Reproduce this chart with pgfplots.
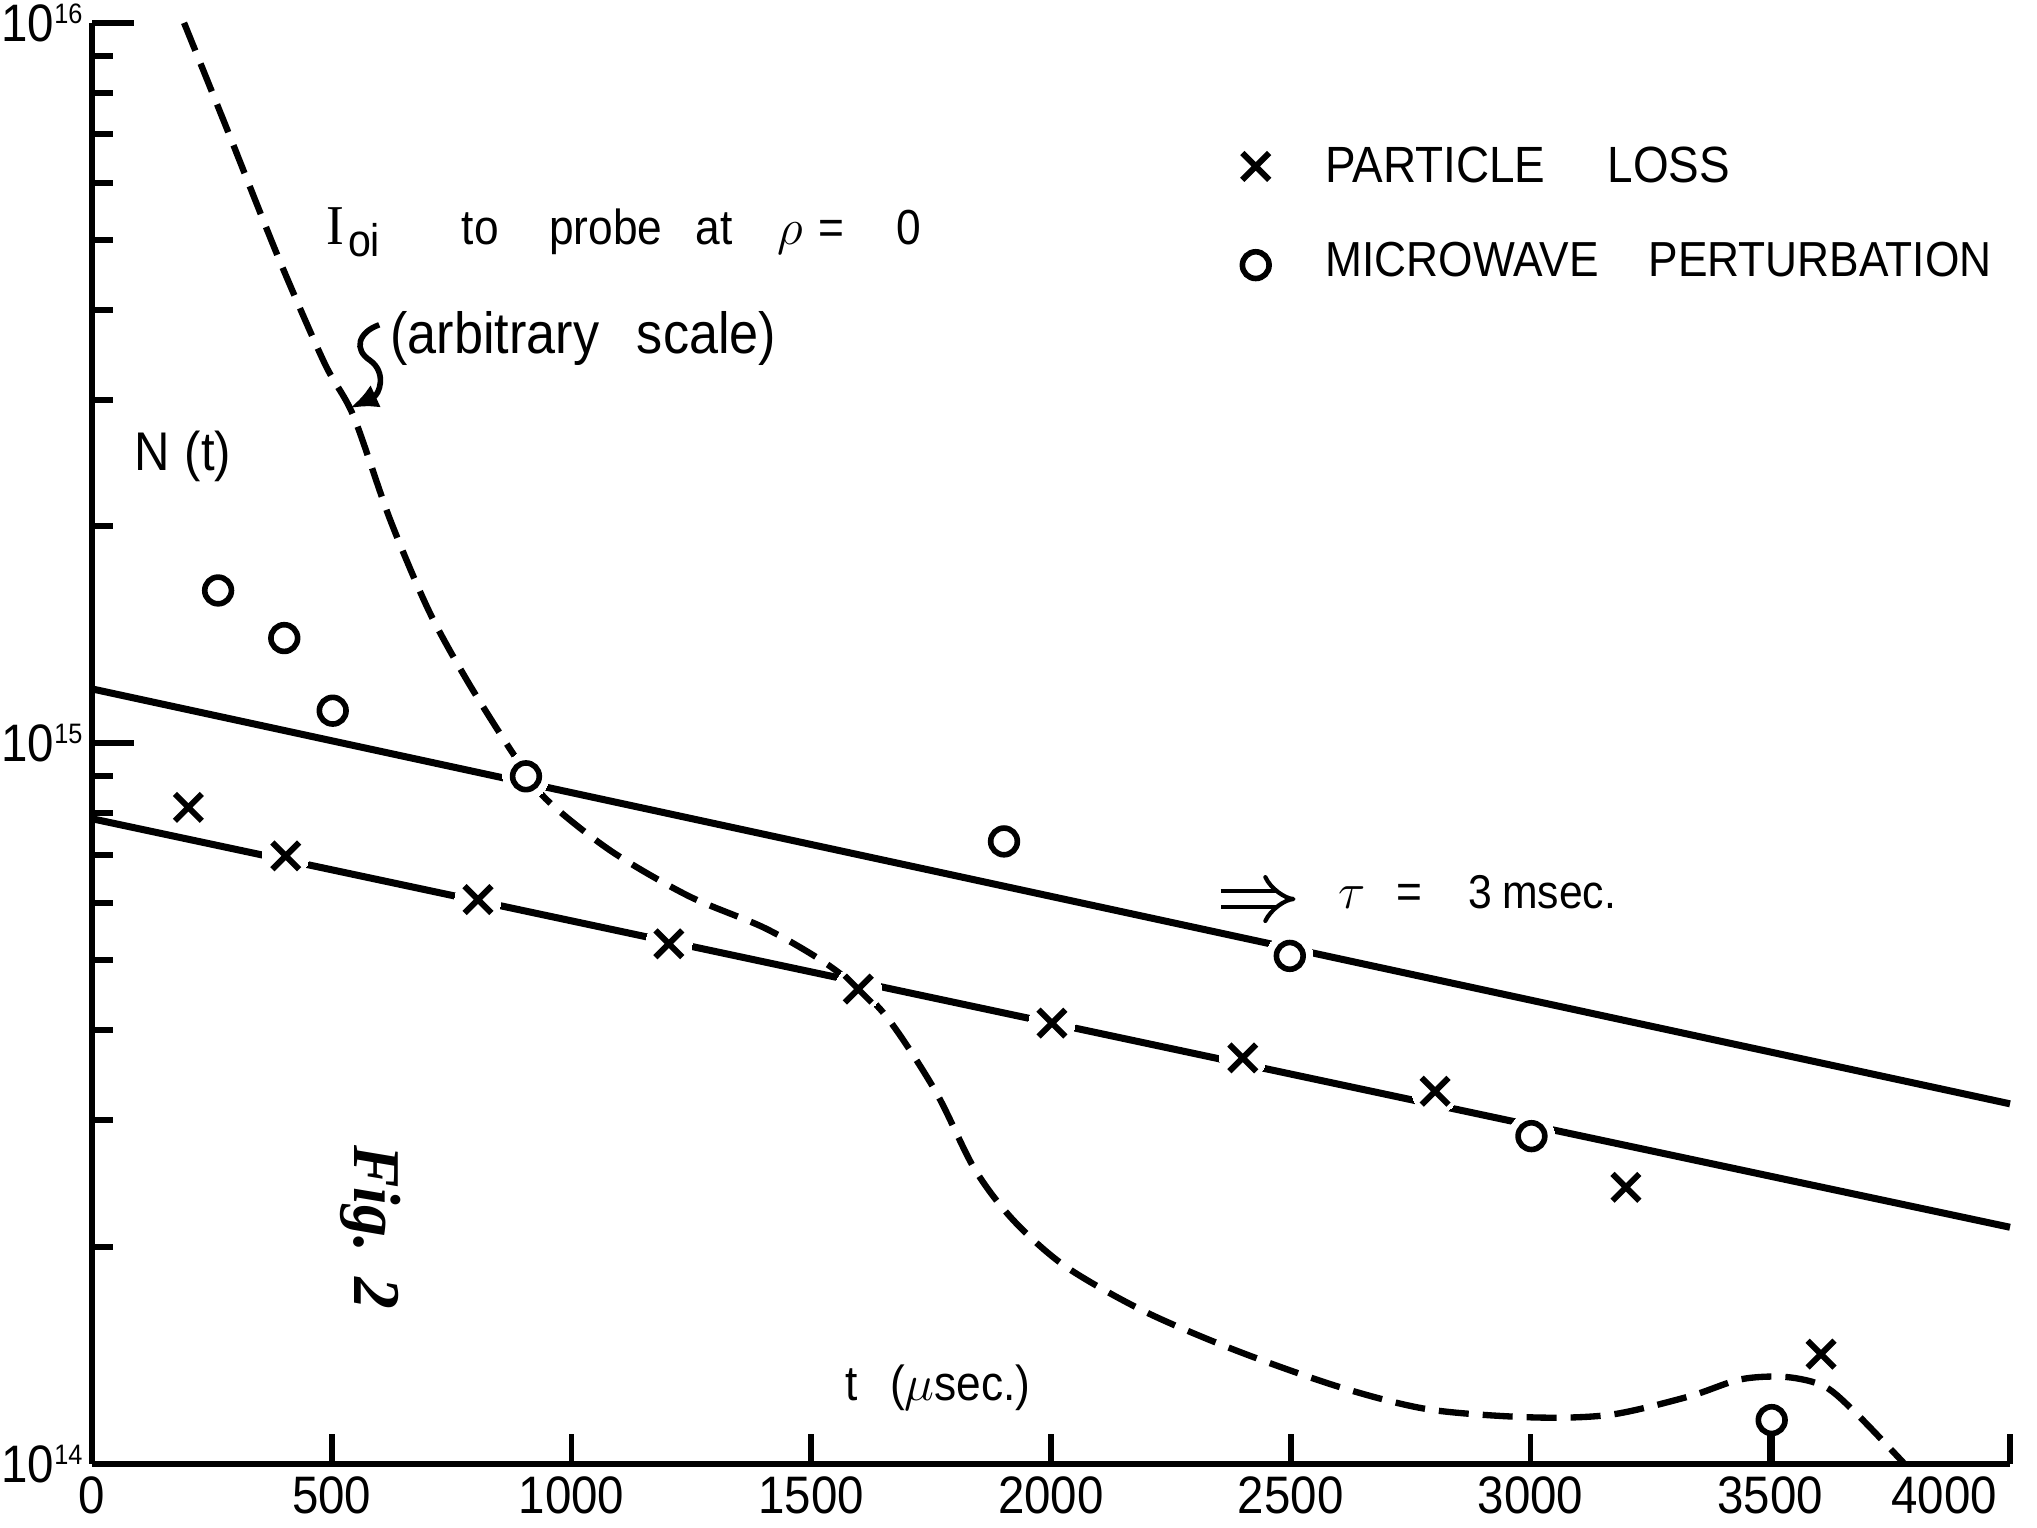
\documentclass[border=0pt]{standalone}
\usepackage{fontspec}
\setmainfont{Liberation Sans}[FakeStretch=0.9]
\newfontfamily\handfont{Liberation Serif}[FakeStretch=0.95]
\usepackage{pgfplots}
\pgfplotsset{compat=1.18}
\usetikzlibrary{arrows.meta}

\pgfplotstableread{
x y
201 8.15e14
404 6.98e14
805 6.07e14
1203 5.27e14
1598 4.56e14
2002 4.09e14
2400 3.66e14
2801 3.29e14
3199 2.42e14
3606 1.42e14
}\lossdata

\pgfplotstableread{
x y
263 1.63e15
401 1.40e15
502 1.11e15
905 9.0e14
1902 7.31e14
2498 5.07e14
3002 2.85e14
3503 1.15e14
}\microdata

\pgfplotstableread{
x y
192 1.0e16
282 7.11e15
390 4.70e15
485 3.37e15
545 2.85e15
621 2.05e15
702 1.53e15
783 1.22e15
878 9.68e14
946 8.38e14
1081 7.10e14
1244 6.14e14
1406 5.53e14
1542 4.89e14
1650 4.23e14
1758 3.30e14
1840 2.57e14
1921 2.18e14
2030 1.88e14
2193 1.63e14
2382 1.44e14
2599 1.28e14
2788 1.19e14
3005 1.16e14
3167 1.17e14
3330 1.24e14
3438 1.31e14
3533 1.32e14
3614 1.28e14
3682 1.17e14
3780 1.0e14
}\ioidata

\begin{document}
\begin{tikzpicture}
\begin{axis}[
  scale only axis,
  width=19.18cm, height=14.41cm,
  xmin=0, xmax=4000,
  ymode=log, ymin=1e14, ymax=1e16,
  axis lines=left,
  axis line style={line width=1.8pt, -},
  every outer x axis line/.append style={-},
  every outer y axis line/.append style={-},
  xtick={0,500,1000,1500,2000,2500,3000,3500,4000},
  xticklabels={0,500,1000,1500,2000,2500,3000,3500,{\makebox[0pt][r]{4000}\hspace*{0.26cm}}},
  ytick={1e14,1e15,1e16},
  yticklabels={10\textsuperscript{\fontsize{8}{9}\selectfont 14},10\textsuperscript{\fontsize{8}{9}\selectfont 15},10\textsuperscript{\fontsize{8}{9}\selectfont 16}},
  minor ytick={2e14,3e14,4e14,5e14,6e14,7e14,8e14,9e14,2e15,3e15,4e15,5e15,6e15,7e15,8e15,9e15},
  tick align=inside,
  major tick length=0.42cm,
  minor tick length=0.21cm,
  xtick style={/pgfplots/major tick length=0.3cm},
  every tick/.append style={line width=1.7pt, black},
  tick label style={font=\fontsize{15}{17}\selectfont},
  yticklabel style={inner sep=1pt, xshift=-1pt},
  /pgf/number format/assume math mode=true,
  clip=false,
]
% fitted exponential lines
\addplot[line width=2pt] coordinates {(0,1.19e15) (4000,3.16e14)};
\addplot[line width=2pt] coordinates {(0,7.86e14) (4000,2.13e14)};
% I_oi curve
\addplot[line width=1.8pt, dash pattern=on 0.3cm off 0.14cm, smooth, tension=0.5] table[x=x,y=y] {\ioidata};
% white halos where points sit on lines
\addplot[only marks, color=white, mark=*, mark size=6.6pt, mark options={fill=white, draw=white, line width=0pt}] coordinates {
(404,6.98e14) (805,6.07e14) (1203,5.27e14) (1598,4.56e14) (2002,4.09e14) (2400,3.66e14) (2801,3.29e14)
(905,9.0e14) (2498,5.07e14) (3002,2.85e14)};
% data points
\addplot[only marks, mark=x, mark size=5.4pt, mark options={line width=1.7pt}] table[x=x,y=y] {\lossdata};
\addplot[only marks, mark=o, mark size=3.8pt, mark options={line width=1.6pt}] table[x=x,y=y] {\microdata};
\addplot[line width=1.6pt] coordinates {(3503,1e14) (3503,1.10e14)};
% legend symbols
\addplot[only marks, mark=x, mark size=5.4pt, mark options={line width=1.7pt}] coordinates {(2427,6.32e15)};
\addplot[only marks, mark=o, mark size=3.8pt, mark options={line width=1.6pt}] coordinates {(2427,4.61e15)};

% legend text
\node[anchor=base west, font=\fontsize{14.5}{16}\selectfont, inner sep=0pt] at (axis cs:2571,6.0e15) {PARTICLE\hspace{0.62cm}LOSS};
\node[anchor=base west, font=\fontsize{14}{16}\selectfont, inner sep=0pt] at (axis cs:2571,4.45e15) {MICROWAVE\hspace{0.5cm}PERTURBATION};

% annotations
\begin{scope}[every node/.style={anchor=base west, inner sep=0pt, font=\fontsize{14}{16}\selectfont}]
\node[font=\fontsize{16}{18}\selectfont] at (axis cs:488,4.93e15) {{\handfont I}\kern1pt\raisebox{-0.4ex}{\fontsize{13}{14}\selectfont oi}};
\node at (axis cs:770,4.93e15) {to};
\node at (axis cs:952,4.93e15) {probe};
\node at (axis cs:1257,4.93e15) {at};
\node at (axis cs:1428,4.93e15) {$\rho$};
\node at (axis cs:1514,4.93e15) {=};
\node at (axis cs:1677,4.93e15) {0};
\node[font=\fontsize{16.5}{18}\selectfont] at (axis cs:621,3.48e15) {(arbitrary};
\node[font=\fontsize{16.5}{18}\selectfont] at (axis cs:1135,3.48e15) {scale)};
\node[font=\fontsize{15.5}{17}\selectfont] at (axis cs:87,2.39e15) {N\hspace{0.15cm}(t)};
\node at (axis cs:2598,5.89e14) {$\tau$};
\node at (axis cs:2720,5.89e14) {=};
\node[font=\fontsize{13.5}{15}\selectfont] at (axis cs:2869,5.89e14) {3\hspace{0.1cm}msec.};
\node at (axis cs:1569,1.225e14) {t};
\node at (axis cs:1663,1.225e14) {($\mu$sec.)};
\end{scope}
\node[rotate=-90, font=\handfont\bfseries\itshape\fontsize{19}{21}\selectfont] at (axis cs:580,2.13e14) {Fig.\hspace{0.25cm}2};
\draw[line width=1.2pt, double, double distance=3.5pt, -{Implies}] (axis cs:2354,6.08e14) -- (axis cs:2510,6.08e14);
\draw[line width=1.6pt, -{Latex[length=8pt,width=7pt]}] (axis cs:599,3.81e15) .. controls (axis cs:555,3.72e15) and (axis cs:545,3.52e15) .. (axis cs:580,3.40e15) .. controls (axis cs:615,3.27e15) and (axis cs:600,3.05e15) .. (axis cs:538,2.92e15);
\end{axis}
\pgfresetboundingbox
\path[use as bounding box] (current axis.south west) ++(-0.92cm,-0.64cm) rectangle ++(20.37cm,15.28cm);
\end{tikzpicture}
\end{document}
